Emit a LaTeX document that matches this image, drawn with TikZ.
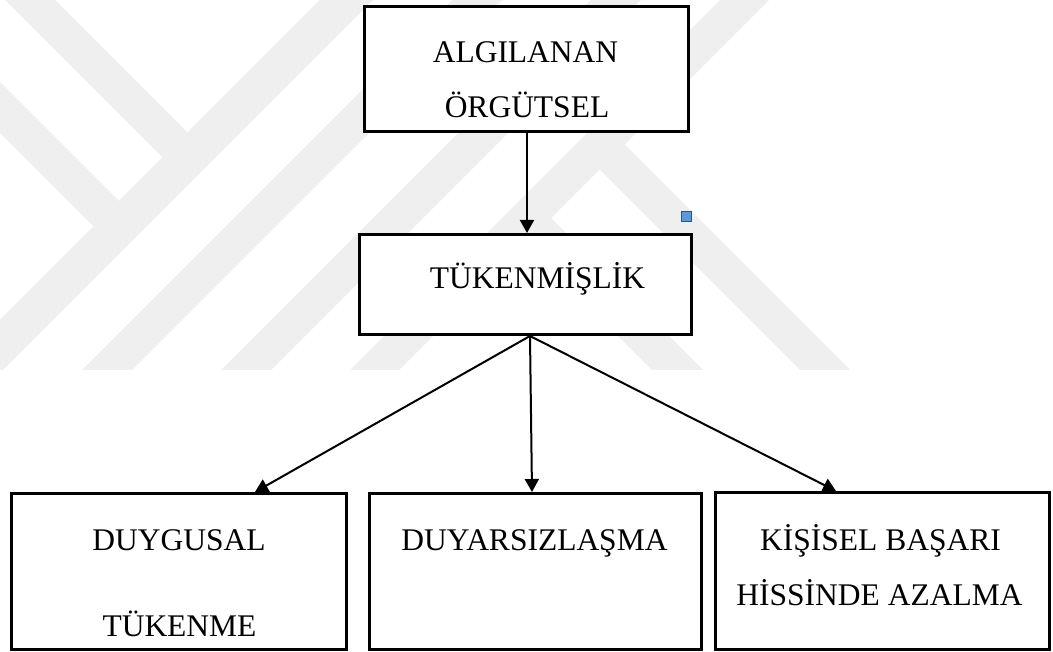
\documentclass[tikz,border=0pt]{standalone}
\usepackage{fontspec}
\setmainfont{Liberation Serif}
\usetikzlibrary{arrows.meta,calc}
\definecolor{wm}{RGB}{239,239,239}
\definecolor{hblue}{RGB}{91,155,213}
\definecolor{hborder}{RGB}{46,84,140}
\begin{document}
\begin{tikzpicture}[x=1pt,y=-1pt,
  box/.style={draw=black, fill=white, line width=3pt, rectangle, inner sep=0pt},
  lbl/.style={font=\fontsize{31.5}{38}\selectfont, inner sep=0pt, anchor=base},
  arr/.style={line width=2pt, -{Triangle[length=13pt,width=14pt]}},
  handle/.style={draw=hborder, fill=hblue, line width=1.5pt, minimum size=10pt, inner sep=0pt, rectangle}]
\useasboundingbox (0,0) rectangle (1053,652);
% watermark
\begin{scope}
\clip (0,0) rectangle (1053,370);
\fill[wm] (5,0) -- (55,0) -- (187.5,132.5) -- (162.5,157.5) -- cycle;
\fill[wm] (-20,62) -- (-20,113) -- (93.5,226.5) -- (119,201) -- cycle;
\fill[wm] (320,0) -- (373,0) -- (3,370) -- (-50,370) -- cycle;
\fill[wm] (452,0) -- (502,0) -- (132,370) -- (82,370) -- cycle;
\fill[wm] (591,0) -- (641,0) -- (271,370) -- (221,370) -- cycle;
\fill[wm] (720,0) -- (769,0) -- (399,370) -- (350,370) -- cycle;
\fill[wm] (624.5,144.5) -- (850,370) -- (800,370) -- (599.5,169.5) -- cycle;
\fill[wm] (551,218) -- (703,370) -- (652,370) -- (525.5,243.5) -- cycle;
\end{scope}
% boxes
\node[box, minimum width=324pt, minimum height=125pt] (top) at (526.5,69) {};
\node[box, minimum width=332pt, minimum height=100pt] (mid) at (525.5,284.5) {};
\node[box, minimum width=335pt, minimum height=156pt] (b1) at (179,571.5) {};
\node[box, minimum width=332pt, minimum height=156pt] (b2) at (535.5,571.5) {};
\node[box, minimum width=334pt, minimum height=157pt] (b3) at (882.5,571) {};
% texts
\node[lbl] (t1) at (525.5,63) {ALGILANAN};
\node[lbl] (t2) at (527,118) {ÖRGÜTSEL};
\node[lbl] (t3) at (537.5,289) {TÜKENMİŞLİK};
\node[lbl] (t4) at (179,550) {DUYGUSAL};
\node[lbl] (t5) at (179.5,636) {TÜKENME};
\node[lbl] (t6) at (534.5,550) {DUYARSIZLAŞMA};
\node[lbl] (t7) at (880.5,550) {KİŞİSEL BAŞARI};
\node[lbl] (t8) at (879.5,605) {HİSSİNDE AZALMA};
% selection handle
\node[handle] (h) at (686.7,216.7) {};
% connectors
\draw[arr] ([xshift=0.5pt]top.south) -- ([xshift=1.5pt]mid.north);
\coordinate (s) at ([xshift=4.5pt]mid.south);
\draw[arr] (s) -- ([xshift=76pt]b1.north);
\draw[arr] (s) -- ([xshift=-3.5pt]b2.north);
\draw[arr] (s) -- ([xshift=-46.5pt]b3.north);
\end{tikzpicture}
\end{document}
